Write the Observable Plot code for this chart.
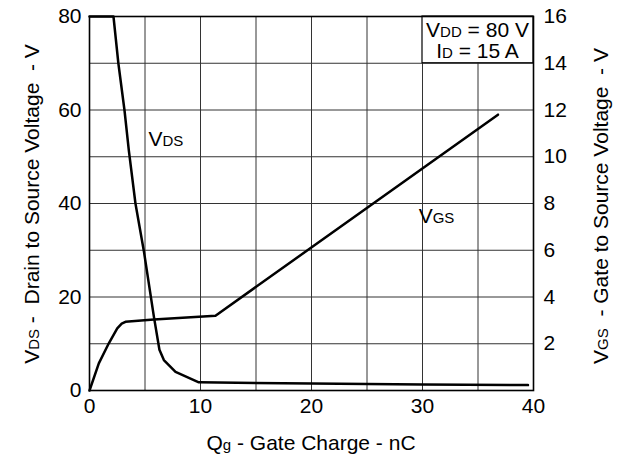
<!DOCTYPE html>
<html><head><meta charset="utf-8">
<script src="https://cdn.jsdelivr.net/npm/d3@7"></script>
<script src="https://cdn.jsdelivr.net/npm/@observablehq/plot@0.6"></script>
<style>body{margin:0;background:#fff} svg{display:block} text{white-space:pre}</style>
</head><body><div id="chart"></div>
<script>
// Gate charge (nC) and drain-source voltage VDS (V, left axis)
const qVds = [0, 2.16, 2.6, 3.15, 3.54, 4.14, 4.9, 5.8, 6.3, 6.7, 7.75, 9.85, 20, 30, 39.5];
const vds  = [80, 80, 70, 60, 51.4, 40, 29.8, 15.8, 8.7, 6.5, 4.0, 1.75, 1.5, 1.3, 1.15];
// Gate charge (nC) and gate-source voltage VGS (V, right axis)
const qVgs = [0, 0.84, 1.74, 2.5, 2.9, 3.24, 5.8, 11.35, 36.8];
const vgs  = [0, 1.16, 2.02, 2.66, 2.86, 2.94, 3.04, 3.2, 11.8];

const xTicks = [0, 10, 20, 30, 40];
const xGrid = [0, 5, 10, 15, 20, 25, 30, 35, 40];
const leftTicks = [0, 20, 40, 60, 80];
const leftGrid = [0, 10, 20, 30, 40, 50, 60, 70, 80];
const rightTicks = [2, 4, 6, 8, 10, 12, 14, 16];
const leftMax = 80, rightMax = 16;
const k = leftMax / rightMax;

const condLines = ["V_{DD} = 80 V", "I_{D} = 15 A"];
const seriesLabels = [
  {q: 5.35, v: 54, text: "V_{DS}"},
  {q: 29.7, v: 37.5, text: "V_{GS}"}
];
const xTitle = "Q_{g} - Gate Charge - nC";
const yLeftTitle = "V_{DS} -  Drain to Source Voltage  - V";
const yRightTitle = "V_{GS}  - Gate to Source Voltage  - V";

const vdsData = qVds.map((q, i) => ({q, v: vds[i]}));
const vgsData = qVgs.map((q, i) => ({q, v: vgs[i] * k}));

const font = "'Liberation Sans', Arial, Helvetica, sans-serif";

const chart = Plot.plot({
  width: 623, height: 461,
  marginLeft: 89, marginRight: 90, marginTop: 16, marginBottom: 71,
  x: {domain: [0, 40]},
  y: {domain: [0, leftMax]},
  style: {fontFamily: font, fontSize: "21px", background: "white", color: "black"},
  marks: [
    Plot.gridX(xGrid, {stroke: "#333", strokeOpacity: 1, strokeWidth: 1}),
    Plot.gridY(leftGrid, {stroke: "#333", strokeOpacity: 1, strokeWidth: 1}),
    Plot.rect([0], {x1: 30, x2: 40, y1: 70, y2: 80, fill: "white", stroke: "black", strokeWidth: 1.2}),
    Plot.frame({stroke: "black", strokeWidth: 1.6}),
    Plot.axisX(xTicks, {tickSize: 0, tickPadding: 8, label: null}),
    Plot.axisY(leftTicks, {anchor: "left", tickSize: 0, tickPadding: 8, label: null}),
    Plot.axisY(rightTicks.map(t => t * k), {anchor: "right", tickSize: 0, tickPadding: 10, label: null, tickFormat: d => d / k}),
    Plot.line(vgsData, {x: "q", y: "v", stroke: "black", strokeWidth: 2.5, strokeLinejoin: "round"}),
    Plot.line(vdsData, {x: "q", y: "v", stroke: "black", strokeWidth: 2.5, strokeLinejoin: "round"})
  ]
});

document.getElementById("chart").appendChild(chart);

const svg = d3.select(chart);
const xs = chart.scale("x"), ys = chart.scale("y");

function rich(t, str) {
  const parts = str.split(/_\{([^}]*)\}/);
  parts.forEach((p, i) => {
    if (!p) return;
    const ts = t.append("tspan").text(p);
    if (i % 2) ts.attr("font-size", 15);
  });
  return t;
}
function addText(x, y, str, anchor, rotate) {
  const t = svg.append("text")
    .attr("font-family", font).attr("font-size", 21).attr("fill", "black")
    .attr("text-anchor", anchor)
    .attr("transform", `translate(${x},${y})` + (rotate ? ` rotate(${rotate})` : ""));
  return rich(t, str);
}

// series labels, placed in data coordinates
seriesLabels.forEach(d => addText(xs.apply(d.q), ys.apply(d.v) + 8, d.text, "start"));
// test conditions in the top-right cell
const cx = xs.apply(35);
addText(cx, 37, condLines[0], "middle");
addText(cx, 57.5, condLines[1], "middle");
// axis titles
addText(311, 450, xTitle, "middle");
addText(39, 204, yLeftTitle, "middle", -90);
addText(608, 206, yRightTitle, "middle", -90);
</script></body></html>
